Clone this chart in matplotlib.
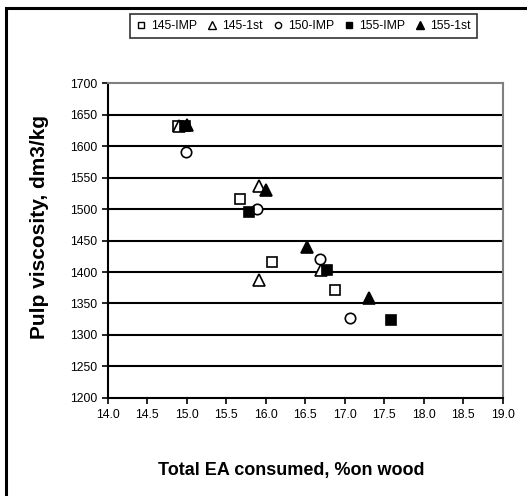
import matplotlib.pyplot as plt
from matplotlib.lines import Line2D
from matplotlib.patches import Rectangle

plt.rcParams['font.family'] = ['Liberation Sans', 'DejaVu Sans']

# total EA consumed (% on wood) and pulp viscosity (dm3/kg) per series
imp145_x = [14.89, 15.68, 16.08, 16.88]
imp145_y = [1632, 1516, 1416, 1372]
first145_x = [14.90, 15.92, 15.92, 16.70]
first145_y = [1632, 1537, 1387, 1403]
imp150_x = [14.99, 15.89, 16.69, 17.07]
imp150_y = [1591, 1500, 1420, 1327]
imp155_x = [14.98, 15.79, 16.78, 17.59]
imp155_y = [1632, 1496, 1403, 1323]
first155_x = [15.01, 16.00, 16.52, 17.31]
first155_y = [1634, 1530, 1440, 1358]

labels = ['145-IMP', '145-1st', '150-IMP', '155-IMP', '155-1st']
x_ticks = [14.0, 14.5, 15.0, 15.5, 16.0, 16.5, 17.0, 17.5, 18.0, 18.5, 19.0]
y_ticks = list(range(1200, 1701, 50))

fig = plt.figure(figsize=(5.27, 4.96), dpi=100)
ax = fig.add_axes([0.204, 0.198, 0.750, 0.634])

# outer chart frame
fig.patches.append(Rectangle((6 / 527, -0.1), 1.2, 1 - 8 / 496 + 0.1,
                             transform=fig.transFigure, fill=False,
                             edgecolor='black', linewidth=2.2))

for y in y_ticks[1:-1]:
    ax.axhline(y, color='black', linewidth=1.5, zorder=1)

ms = 7.5
ax.plot(imp145_x, imp145_y, 's', ms=ms, mfc='white', mec='black', mew=1.2, zorder=3)
ax.plot(first145_x, first145_y, '^', ms=ms + 1, mfc='white', mec='black', mew=1.2, zorder=3)
ax.plot(imp150_x, imp150_y, 'o', ms=ms, mfc='white', mec='black', mew=1.2, zorder=3)
ax.plot(imp155_x, imp155_y, 's', ms=ms, mfc='black', mec='black', mew=1.2, zorder=4)
ax.plot(first155_x, first155_y, '^', ms=ms + 1, mfc='black', mec='black', mew=1.2, zorder=4)

ax.set_xlim(14.0, 19.0)
ax.set_ylim(1200, 1700)
ax.set_xticks(x_ticks)
ax.set_xticklabels([f'{v:.1f}' for v in x_ticks])
ax.set_yticks(y_ticks)
ax.tick_params(axis='both', direction='out', length=4, width=1.2,
               labelsize=8.8, colors='black')
ax.tick_params(axis='x', pad=4)

ax.spines['left'].set_linewidth(1.5)
ax.spines['bottom'].set_linewidth(1.5)
ax.spines['top'].set_color('#808080')
ax.spines['right'].set_color('#808080')
ax.spines['top'].set_linewidth(1.5)
ax.spines['right'].set_linewidth(1.5)

# axis titles sit at fixed spots in the chart area
fig.text(291 / 527, 1 - 470 / 496, 'Total EA consumed, %on wood',
         fontsize=13, fontweight='bold', ha='center', va='center')
fig.text(40 / 527, 1 - 227 / 496, 'Pulp viscosity, dm3/kg',
         fontsize=15, fontweight='bold', ha='center', va='center', rotation=90)

handles = [
    Line2D([], [], ls='none', marker='s', ms=4.5, mfc='white', mec='black'),
    Line2D([], [], ls='none', marker='^', ms=5.5, mfc='white', mec='black'),
    Line2D([], [], ls='none', marker='o', ms=4.5, mfc='white', mec='black'),
    Line2D([], [], ls='none', marker='s', ms=4.5, mfc='black', mec='black'),
    Line2D([], [], ls='none', marker='^', ms=5.5, mfc='black', mec='black'),
]
leg = fig.legend(handles, labels, loc='center', bbox_to_anchor=(0.576, 0.948),
                 ncol=5, fontsize=8.8, frameon=True, fancybox=False,
                 edgecolor='black', handlelength=0.8, handletextpad=0.4,
                 columnspacing=0.85, borderpad=0.5)
leg.get_frame().set_linewidth(1.2)

fig.savefig('out.png', dpi=100, facecolor='white')
